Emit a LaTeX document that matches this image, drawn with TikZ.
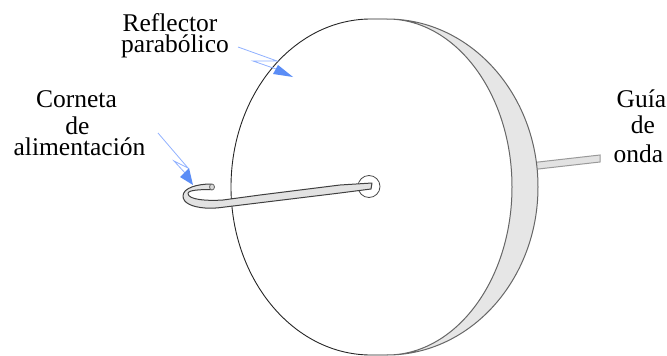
\documentclass[tikz,border=0pt]{standalone}
\usepackage{fontspec}
\setmainfont{Liberation Serif}
\definecolor{dishgrey}{HTML}{E6E6E6}
\definecolor{edgegrey}{HTML}{666666}
\definecolor{tubegrey}{HTML}{E2E2E2}
\definecolor{thinblue}{HTML}{8FB0FF}
\definecolor{headblue}{HTML}{5B8DF6}
\tikzset{
  lbl/.style={anchor=base,inner sep=0pt,font=\fontsize{25.5}{24}\selectfont,text=black},
  rim/.style={fill=dishgrey,draw=edgegrey,line width=1pt},
  front/.style={draw=black!85,line width=.9pt},
  tube/.style={fill=tubegrey,draw=black!75,line width=1pt,line join=round},
  bolt/.style={draw=thinblue,line width=.8pt},
  bolthead/.style={fill=headblue,draw=none}
}
\begin{document}
\begin{tikzpicture}[x=1pt,y=-1pt]
\useasboundingbox (0,0) rectangle (667,356);
% waveguide
\draw[fill=tubegrey,draw=black!40,line width=1pt] (534,162.5) -- (600,155) -- (600,162) -- (534,169.5) -- cycle;
% dish rim
\draw[rim] (387,19) arc[start angle=-90,end angle=90,x radius=151,y radius=168]
  arc[start angle=90,end angle=-90,x radius=125,y radius=168] -- cycle;
% dish front
\draw[front] (387,19) -- (371,19) arc[start angle=-90,end angle=-270,x radius=140,y radius=168] -- (387,355);
% hole
\node[circle,draw=black!70,line width=.8pt,fill=white,minimum size=22pt,inner sep=0pt] (hole) at (369,186.5) {};
% feed tube
\draw[tube] (211,184) .. controls (197,184) and (183,188) .. (183,196)
  .. controls (183,203) and (192,207) .. (205,208)
  .. controls (212,208.5) and (218,208) .. (225,207)
  -- (340,193) -- (371,189) -- (372,183) -- (340,185)
  -- (260,195) -- (223,200)
  .. controls (208,201) and (188,200) .. (188,193.5)
  .. controls (188,190) and (200,189.5) .. (212,189.5) -- cycle;
\draw[fill=black!15,draw=black!60,line width=.8pt] (212,187) ellipse[x radius=2.5,y radius=3];
% blue arrows
\draw[bolt] (238,47) -- (277,61) -- (253,61) -- (276,69);
\fill[bolthead] (293,77) -- (278,65) -- (273,74) -- cycle;
\draw[bolt] (158,133) -- (188,168) -- (174,161) -- (186,174);
\fill[bolthead] (193,185) -- (189,168) -- (180,177) -- cycle;
% labels
\node[lbl] (reflector) at (170,31) {Reflector};
\node[lbl] (parabolico) at (175,52) {parabólico};
\node[lbl] (corneta) at (76.5,107) {Corneta};
\node[lbl] (de1) at (77.5,134) {de};
\node[lbl] (alimentacion) at (79.5,155) {alimentación};
\node[lbl] (guia) at (641.5,107) {Guía};
\node[lbl] (de2) at (643,133) {de};
\node[lbl] (onda) at (638.5,162) {onda};
\end{tikzpicture}
\end{document}
